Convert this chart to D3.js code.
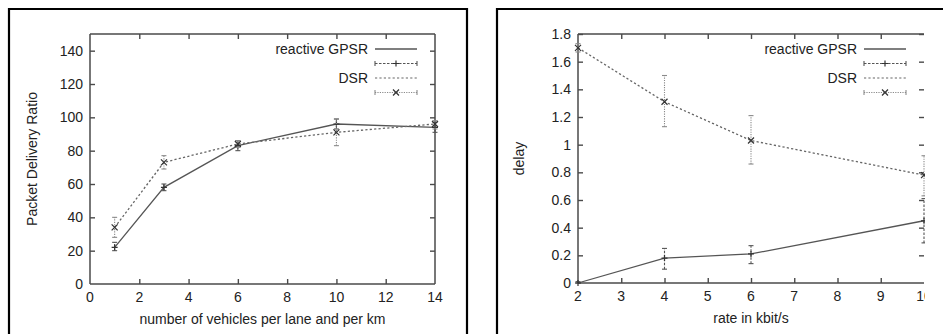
<!DOCTYPE html>
<html>
<head>
<meta charset="utf-8">
<script src="https://cdn.jsdelivr.net/npm/d3@7"></script>
<style>
  body { margin: 0; background: #fff; }
  svg { display: block; font-family: "Liberation Sans", Arial, sans-serif; }
</style>
</head>
<body>
<div id="chart"></div>
<script>
// left panel: delivery ratio vs density
const densityX = [1, 3, 6, 10, 14];
const gpsrRatio = [22, 58, 83, 96, 94];
const gpsrRatioLow = [20, 56, 80, 93, 91];
const gpsrRatioHigh = [25, 60, 86, 99, 97];
const dsrRatio = [34, 73, 84, 91, 96];
const dsrRatioLow = [28, 69, 82, 83, 93];
const dsrRatioHigh = [40, 77, 86, 99, 98];
const densityTicks = [0, 2, 4, 6, 8, 10, 12, 14];
const ratioTicks = [0, 20, 40, 60, 80, 100, 120, 140];

// right panel: delay vs rate
const rateX = [2, 4, 6, 10];
const gpsrDelay = [0, 0.18, 0.21, 0.45];
const gpsrDelayLow = [0, 0.10, 0.14, 0.29];
const gpsrDelayHigh = [0.01, 0.25, 0.27, 0.61];
const dsrDelay = [1.70, 1.31, 1.03, 0.78];
const dsrDelayLow = [1.67, 1.13, 0.86, 0.63];
const dsrDelayHigh = [1.73, 1.50, 1.21, 0.92];
const rateTicks = [2, 3, 4, 5, 6, 7, 8, 9, 10];
const delayTicks = [0, 0.2, 0.4, 0.6, 0.8, 1, 1.2, 1.4, 1.6, 1.8];

const legendLabels = ["reactive GPSR", "", "DSR", ""];

const W = 943, H = 334;
const FS = 14;
const svg = d3.select("#chart").append("svg").attr("width", W).attr("height", H);

// outer boxes
svg.append("path").attr("d", "M9,340V9H467V340")
    .attr("fill", "none").attr("stroke", "#000").attr("stroke-width", 2.2);
svg.append("path").attr("d", "M497,340V9H950")
    .attr("fill", "none").attr("stroke", "#000").attr("stroke-width", 2.2);

svg.append("defs").append("clipPath").attr("id", "rightClip")
    .append("rect").attr("x", 0).attr("y", 0).attr("width", 925).attr("height", H);

const gpsrStyle = {line: "#555", dash: null, err: "#555", errDash: "2.5,1.5", errW: 1.1};
const dsrStyle = {line: "#666", dash: "2.2,2.2", err: "#8a8a8a", errDash: "1.2,1.2", errW: 1.1};

function drawPanel(cfg) {
    const g = svg.append("g");
    if (cfg.clip) g.attr("clip-path", "url(#" + cfg.clip + ")");
    const m = cfg.box;
    const x = d3.scaleLinear().domain(cfg.xDomain).range([m.left, m.right]);
    const y = d3.scaleLinear().domain(cfg.yDomain).range([m.bottom, m.top]);
    const tl = 5;

    // frame
    const frame = g.append("g").attr("stroke", "#4a4a4a").attr("stroke-width", 1.5).attr("fill", "none");
    frame.append("line").attr("x1", m.left).attr("x2", m.left).attr("y1", m.top).attr("y2", m.bottom);
    frame.append("line").attr("x1", m.left).attr("x2", m.right).attr("y1", m.bottom).attr("y2", m.bottom);
    frame.append("line").attr("x1", m.left).attr("x2", m.right).attr("y1", m.top).attr("y2", m.top);
    if (cfg.rightFrame) frame.append("line").attr("x1", m.right).attr("x2", m.right).attr("y1", m.top).attr("y2", m.bottom);

    // axes built with d3 axes, ticks pointing inward
    const tickFmt = cfg.yFormat;
    const yAxisL = g.append("g").attr("transform", "translate(" + m.left + ",0)")
        .call(d3.axisRight(y).tickValues(cfg.yTicks).tickSize(tl).tickFormat(""));
    const yAxisR = g.append("g").attr("transform", "translate(" + m.right + ",0)")
        .call(d3.axisLeft(y).tickValues(cfg.yTicks).tickSize(tl).tickFormat(""));
    const xAxisB = g.append("g").attr("transform", "translate(0," + m.bottom + ")")
        .call(d3.axisTop(x).tickValues(cfg.xTicks).tickSize(tl).tickFormat(""));
    const xAxisT = g.append("g").attr("transform", "translate(0," + m.top + ")")
        .call(d3.axisBottom(x).tickValues(cfg.xTicks).tickSize(tl).tickFormat(""));
    [yAxisL, yAxisR, xAxisB, xAxisT].forEach(a => {
        a.select(".domain").remove();
        a.selectAll("line").attr("stroke", "#4a4a4a").attr("stroke-width", 1.4);
    });
    // skip ticks that sit on the frame corners
    yAxisL.selectAll(".tick").filter(d => d === cfg.yDomain[0]).remove();
    yAxisR.selectAll(".tick").filter(d => d === cfg.yDomain[0]).remove();
    xAxisB.selectAll(".tick").filter(d => d === cfg.xDomain[0] || d === cfg.xDomain[1]).remove();
    xAxisT.selectAll(".tick").filter(d => d === cfg.xDomain[0] || d === cfg.xDomain[1]).remove();

    // tick labels
    g.append("g").selectAll("text").data(cfg.yTicks).join("text")
        .attr("x", m.left - 7).attr("y", d => y(d)).attr("dy", "0.36em")
        .attr("text-anchor", "end").attr("font-size", FS).attr("fill", "#222")
        .text(tickFmt);
    g.append("g").selectAll("text").data(cfg.xTicks).join("text")
        .attr("x", d => x(d)).attr("y", m.bottom + 18)
        .attr("text-anchor", "middle").attr("font-size", FS).attr("fill", "#222")
        .text(d => d);

    // axis titles
    g.append("text").attr("x", (m.left + m.right) / 2).attr("y", m.bottom + 40)
        .attr("text-anchor", "middle").attr("font-size", FS).attr("fill", "#222").text(cfg.xTitle);
    g.append("text").attr("transform", "translate(" + cfg.yTitleX + "," + ((m.top + m.bottom) / 2) + ") rotate(-90)")
        .attr("text-anchor", "middle").attr("font-size", FS).attr("fill", "#222").text(cfg.yTitle);

    const line = d3.line().x(d => x(d[0])).y(d => y(d[1]));

    cfg.series.forEach(s => {
        const pts = s.xs.map((v, i) => [v, s.ys[i]]);
        g.append("path").attr("d", line(pts)).attr("fill", "none")
            .attr("stroke", s.style.line).attr("stroke-width", 1.3)
            .attr("stroke-dasharray", s.style.dash);
        // error bars
        const eb = g.append("g").attr("stroke", s.style.err).attr("stroke-width", s.style.errW).attr("fill", "none");
        s.xs.forEach((v, i) => {
            const cx = x(v), y0 = y(s.lo[i]), y1 = y(s.hi[i]);
            eb.append("line").attr("x1", cx).attr("x2", cx).attr("y1", y0).attr("y2", y1)
                .attr("stroke-dasharray", s.style.errDash);
            eb.append("line").attr("x1", cx - 2.5).attr("x2", cx + 2.5).attr("y1", y0).attr("y2", y0);
            eb.append("line").attr("x1", cx - 2.5).attr("x2", cx + 2.5).attr("y1", y1).attr("y2", y1);
            drawMarker(g, s.marker, cx, y(s.ys[i]), s.style.line);
        });
    });

    // legend
    const lg = g.append("g");
    const sx0 = m.right - 60, sx1 = m.right - 18, smid = (sx0 + sx1) / 2;
    legendLabels.forEach((lab, i) => {
        const ly = m.top + 15 + i * 14.5;
        if (lab) lg.append("text").attr("x", m.right - 67).attr("y", ly).attr("dy", "0.36em")
            .attr("text-anchor", "end").attr("font-size", FS).attr("fill", "#222").text(lab);
        if (i === 0) {
            lg.append("line").attr("x1", sx0).attr("x2", sx1).attr("y1", ly).attr("y2", ly)
                .attr("stroke", gpsrStyle.line).attr("stroke-width", 1.3);
        } else if (i === 2) {
            lg.append("line").attr("x1", sx0).attr("x2", sx1).attr("y1", ly).attr("y2", ly)
                .attr("stroke", dsrStyle.line).attr("stroke-width", 1.2).attr("stroke-dasharray", dsrStyle.dash);
        } else {
            const st = i === 1 ? gpsrStyle : dsrStyle;
            lg.append("line").attr("x1", sx0).attr("x2", sx1).attr("y1", ly).attr("y2", ly)
                .attr("stroke", st.err).attr("stroke-width", 1.1).attr("stroke-dasharray", st.errDash);
            [sx0, sx1].forEach(cx => lg.append("line").attr("x1", cx).attr("x2", cx)
                .attr("y1", ly - 2.5).attr("y2", ly + 2.5).attr("stroke", st.err).attr("stroke-width", 1.1));
            drawMarker(lg, i === 1 ? "plus" : "cross", smid, ly, st.line);
        }
    });
}

function drawMarker(g, type, cx, cy, color) {
    const r = 3;
    const p = type === "plus"
        ? `M${cx - r},${cy}H${cx + r}M${cx},${cy - r}V${cy + r}`
        : `M${cx - r},${cy - r}L${cx + r},${cy + r}M${cx - r},${cy + r}L${cx + r},${cy - r}`;
    g.append("path").attr("d", p).attr("stroke", "#333").attr("stroke-width", 1.2).attr("fill", "none");
}

drawPanel({
    box: {left: 90, right: 435, top: 34, bottom: 284},
    xDomain: [0, 14], yDomain: [0, 150],
    xTicks: densityTicks, yTicks: ratioTicks,
    yFormat: d => d,
    xTitle: "number of vehicles per lane and per km",
    yTitle: "Packet Delivery Ratio", yTitleX: 37,
    rightFrame: true,
    series: [
        {xs: densityX, ys: gpsrRatio, lo: gpsrRatioLow, hi: gpsrRatioHigh, style: gpsrStyle, marker: "plus"},
        {xs: densityX, ys: dsrRatio, lo: dsrRatioLow, hi: dsrRatioHigh, style: dsrStyle, marker: "cross"}
    ]
});

drawPanel({
    box: {left: 578, right: 924, top: 34, bottom: 283},
    xDomain: [2, 10], yDomain: [0, 1.8],
    xTicks: rateTicks, yTicks: delayTicks,
    yFormat: d => d3.format("~g")(d),
    xTitle: "rate in kbit/s",
    yTitle: "delay", yTitleX: 524,
    rightFrame: false,
    clip: "rightClip",
    series: [
        {xs: rateX, ys: gpsrDelay, lo: gpsrDelayLow, hi: gpsrDelayHigh, style: gpsrStyle, marker: "plus"},
        {xs: rateX, ys: dsrDelay, lo: dsrDelayLow, hi: dsrDelayHigh, style: dsrStyle, marker: "cross"}
    ]
});
</script>
</body>
</html>
